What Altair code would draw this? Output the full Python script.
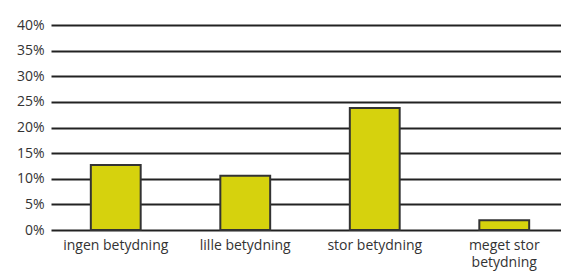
import altair as alt
import pandas as pd

categories = ["ingen betydning", "lille betydning", "stor betydning", "meget stor betydning"]
values = [12.7, 10.6, 23.8, 1.9]
y_ticks = [0, 5, 10, 15, 20, 25, 30, 35, 40]

df = pd.DataFrame({"cat": categories, "val": values})

chart = alt.Chart(df).mark_bar(
    color="#d6d20d", stroke="#333333", strokeWidth=2
).encode(
    x=alt.X("cat:N", sort=categories, title=None,
            scale=alt.Scale(range=[3, 521], paddingInner=0.615, paddingOuter=0.3075),
            axis=alt.Axis(domain=False, ticks=False, labelAngle=0, labelPadding=8,
                          labelFontSize=14, labelColor="#333333", labelFont="Open Sans",
                          labelLimit=200, labelLineHeight=17,
                          labelExpr="datum.label == 'meget stor betydning' ? ['meget stor', 'betydning'] : datum.label")),
    y=alt.Y("val:Q", title=None,
            scale=alt.Scale(domain=[0, 40], nice=False),
            axis=alt.Axis(values=y_ticks, domain=False, ticks=False, grid=True,
                          gridColor="#222222", gridWidth=2, labelPadding=4,
                          labelFontSize=14, labelColor="#333333", labelFont="Open Sans",
                          labelExpr="datum.value + '%'")),
).properties(
    width=513, height=205,
    autosize=alt.AutoSizeParams(type="none"),
    padding={"left": 40, "top": 17, "right": 0, "bottom": 44},
).configure_view(stroke=None)

chart.save("out.html", embed_options={"renderer": "svg", "actions": False})
